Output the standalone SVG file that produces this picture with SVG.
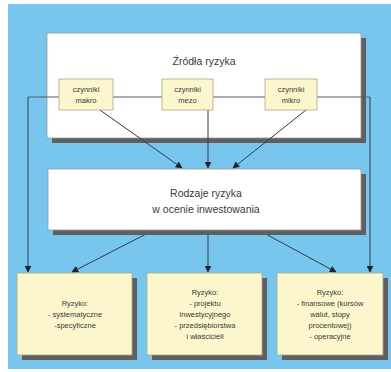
<svg xmlns="http://www.w3.org/2000/svg" width="391" height="372" viewBox="0 0 391 372">
<style>
.bg{fill:#78c6ee}
.shadow{fill:#5f5f5f}
.main{fill:#ffffff;stroke:#9a9a9a;stroke-width:0.8}
.sub{fill:#fcf6cc;stroke:#a8a890;stroke-width:0.8}
.t{font-family:"Liberation Sans",Arial,sans-serif;fill:#3a3a3a;text-anchor:middle}
.big{font-size:10.5px}
.sm{font-size:7.5px}
.ln{stroke:#555e6a;stroke-width:1;fill:none}
.arr{stroke:#2e3a4a;stroke-width:1;fill:none;marker-end:url(#ah)}
</style>
<defs>
<marker id="ah" viewBox="0 0 10 10" refX="9" refY="5" markerWidth="7" markerHeight="7" orient="auto" markerUnits="userSpaceOnUse">
<path d="M0,0 L10,5 L0,10 z" fill="#1e2633"/>
</marker>
</defs>
<rect x="0" y="0" width="391" height="372" fill="#ffffff"/>
<rect class="bg" x="8" y="4" width="383" height="365"/>
<g id="zrodla">
<rect class="shadow" x="52" y="38" width="314" height="105"/>
<rect class="main" x="47" y="33" width="314" height="105"/>
<text class="t big" x="204" y="65">Źródła ryzyka</text>
</g>
<g id="connectors">
<line class="ln" x1="28" y1="97" x2="370" y2="97"/>
<line class="arr" x1="28" y1="97" x2="28" y2="272"/>
<line class="arr" x1="370" y1="97" x2="370" y2="272"/>
<line class="arr" x1="100" y1="110" x2="182" y2="168"/>
<line class="arr" x1="208" y1="110" x2="208" y2="168"/>
<line class="arr" x1="306" y1="110" x2="233" y2="168"/>
<line class="arr" x1="150" y1="232" x2="72" y2="272"/>
<line class="arr" x1="208" y1="232" x2="208" y2="272"/>
<line class="arr" x1="262" y1="232" x2="336" y2="272"/>
</g>
<g id="makro">
<rect class="sub" x="59" y="79" width="54" height="31"/>
<text class="t sm" x="86" y="92">czynniki</text>
<text class="t sm" x="86" y="103">makro</text>
</g>
<g id="mezo">
<rect class="sub" x="162" y="79" width="51" height="31"/>
<text class="t sm" x="187.5" y="92">czynniki</text>
<text class="t sm" x="187.5" y="103">mezo</text>
</g>
<g id="mikro">
<rect class="sub" x="265" y="79" width="52" height="31"/>
<text class="t sm" x="291" y="92">czynniki</text>
<text class="t sm" x="291" y="103">mikro</text>
</g>
<g id="rodzaje">
<rect class="shadow" x="53" y="174" width="313" height="61"/>
<rect class="main" x="48" y="169" width="313" height="61"/>
<text class="t big" x="206" y="197">Rodzaje ryzyka</text>
<text class="t big" x="206" y="213">w ocenie inwestowania</text>
</g>
<g id="ryzyko1">
<rect class="shadow" x="22" y="278" width="115" height="82"/>
<rect class="sub" x="17" y="273" width="115" height="82"/>
<text class="t sm" x="75" y="306">Ryzyko:</text>
<text class="t sm" x="75" y="317">- systematyczne</text>
<text class="t sm" x="75" y="328">-specyficzne</text>
</g>
<g id="ryzyko2">
<rect class="shadow" x="152" y="278" width="115" height="82"/>
<rect class="sub" x="147" y="273" width="115" height="82"/>
<text class="t sm" x="205" y="295">Ryzyko:</text>
<text class="t sm" x="205" y="306">- projektu</text>
<text class="t sm" x="205" y="317">inwestycyjnego</text>
<text class="t sm" x="205" y="328">- przedsiębiorstwa</text>
<text class="t sm" x="205" y="339">i właścicieli</text>
</g>
<g id="ryzyko3">
<rect class="shadow" x="282" y="278" width="106" height="82"/>
<rect class="sub" x="277" y="273" width="106" height="82"/>
<text class="t sm" x="330" y="295">Ryzyko:</text>
<text class="t sm" x="330" y="306">- finansowe (kursów</text>
<text class="t sm" x="330" y="317">walut, stopy</text>
<text class="t sm" x="330" y="328">procentowej)</text>
<text class="t sm" x="330" y="339">- operacyjne</text>
</g>
</svg>
